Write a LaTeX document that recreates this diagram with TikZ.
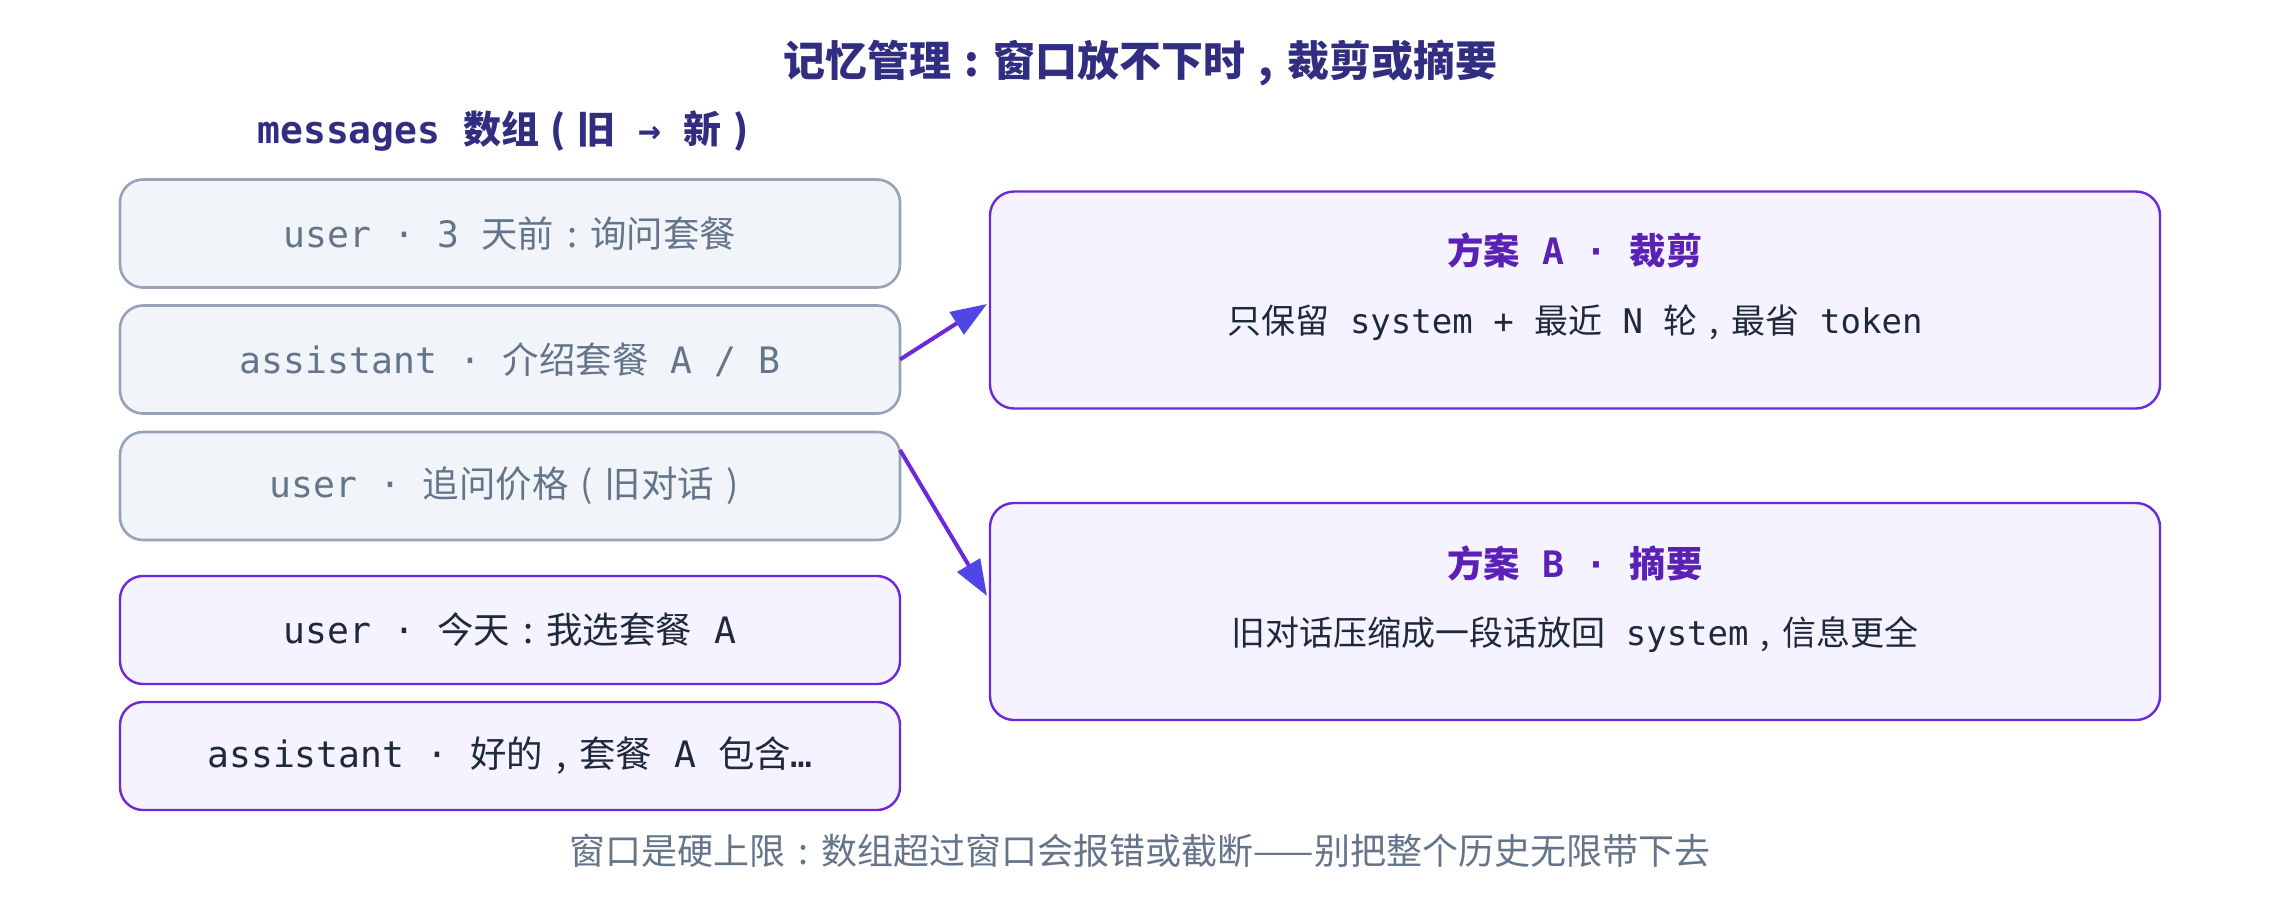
\documentclass[tikz,border=0pt]{standalone}
\usepackage{fontspec}
\setmainfont{Noto Sans CJK SC}
\setmonofont{DejaVu Sans Mono}
\usetikzlibrary{arrows.meta}
\definecolor{ttl}{HTML}{312E81}
\definecolor{oldFill}{HTML}{F1F5F9}
\definecolor{oldBorder}{HTML}{94A3B8}
\definecolor{oldText}{HTML}{64748B}
\definecolor{newFill}{HTML}{F5F3FF}
\definecolor{newBorder}{HTML}{6D28D9}
\definecolor{newText}{HTML}{1E293B}
\definecolor{planTitle}{HTML}{5B21B6}
\definecolor{arrowLine}{HTML}{6D28D9}
\definecolor{arrowHead}{HTML}{4F46E5}
\newcommand\fwp[1]{\makebox[1em][c]{#1}}
\begin{document}
\begin{tikzpicture}[x=0.5pt,y=-0.5pt,
  msgbox/.style={rounded corners=11.5pt, minimum width=390pt, minimum height=54pt,
    inner sep=0pt, outer sep=0pt, font=\fontsize{18.2}{22}\selectfont},
  oldbox/.style={msgbox, draw=oldBorder, fill=oldFill, line width=1.3pt, text=oldText},
  newbox/.style={msgbox, draw=newBorder, fill=newFill, line width=1.2pt, text=newText},
  planbox/.style={draw=newBorder, fill=newFill, line width=1.2pt, rounded corners=12pt,
    minimum width=585pt, minimum height=108.5pt, inner sep=0pt, outer sep=0pt},
  plantitle/.style={text=planTitle, font=\fontsize{18.2}{22}\selectfont\bfseries, inner sep=0pt},
  planbody/.style={text=newText, font=\fontsize{17}{21}\selectfont, inner sep=0pt},
  arr/.style={draw=arrowLine, line width=2pt,
    -{Triangle[length=18pt,width=13pt,color=arrowHead]}}
]
\useasboundingbox (0,0) rectangle (2280,900);

\node[text=ttl, font=\fontsize{21}{25}\selectfont\bfseries, inner sep=0pt] (title) at (1140,63)
  {记忆管理\fwp{:}窗口放不下时\fwp{,}裁剪或摘要};
\node[text=ttl, font=\fontsize{19}{23}\selectfont\bfseries, inner sep=0pt, anchor=west] (sub) at (257,131)
  {\texttt{messages }数组\fwp{(}旧\texttt{ → }新\fwp{)}};

\node[oldbox] (m1) at (510,233.5) {\texttt{user · 3 }天前\fwp{:}询问套餐};
\node[oldbox] (m2) at (510,359.5) {\texttt{assistant · }介绍套餐\texttt{ A / B}};
\node[oldbox] (m3) at (510,486) {\texttt{user · }追问价格\fwp{(}旧对话\fwp{)}};
\node[newbox] (m4) at (510,630) {\texttt{user · }今天\fwp{:}我选套餐\texttt{ A}};
\node[newbox] (m5) at (510,756) {\texttt{assistant · }好的\fwp{,}套餐\texttt{ A }包含\texttt{…}};

\node[planbox] (pa) at (1575,300) {};
\node[plantitle] (pat) at (1575,250) {方案\texttt{ A · }裁剪};
\node[planbody] (pab) at (1575,323) {只保留\texttt{ system + }最近\texttt{ N }轮\fwp{,}最省\texttt{ token}};

\node[planbox] (pb) at (1575,611.5) {};
\node[plantitle] (pbt) at (1575,563) {方案\texttt{ B · }摘要};
\node[planbody] (pbb) at (1575,635) {旧对话压缩成一段话放回\texttt{ system}\fwp{,}信息更全};

\draw[arr] (m2.east) -- ([xshift=-1.5pt,yshift=-2pt]pa.west);
\draw[arr] ([yshift=18pt]m3.east) -- ([xshift=-1.5pt,yshift=7.75pt]pb.west);

\node[text=oldText, font=\fontsize{18}{22}\selectfont, inner sep=0pt] (foot) at (1140,851)
  {窗口是硬上限\fwp{:}数组超过窗口会报错或截断——别把整个历史无限带下去};
\end{tikzpicture}
\end{document}
